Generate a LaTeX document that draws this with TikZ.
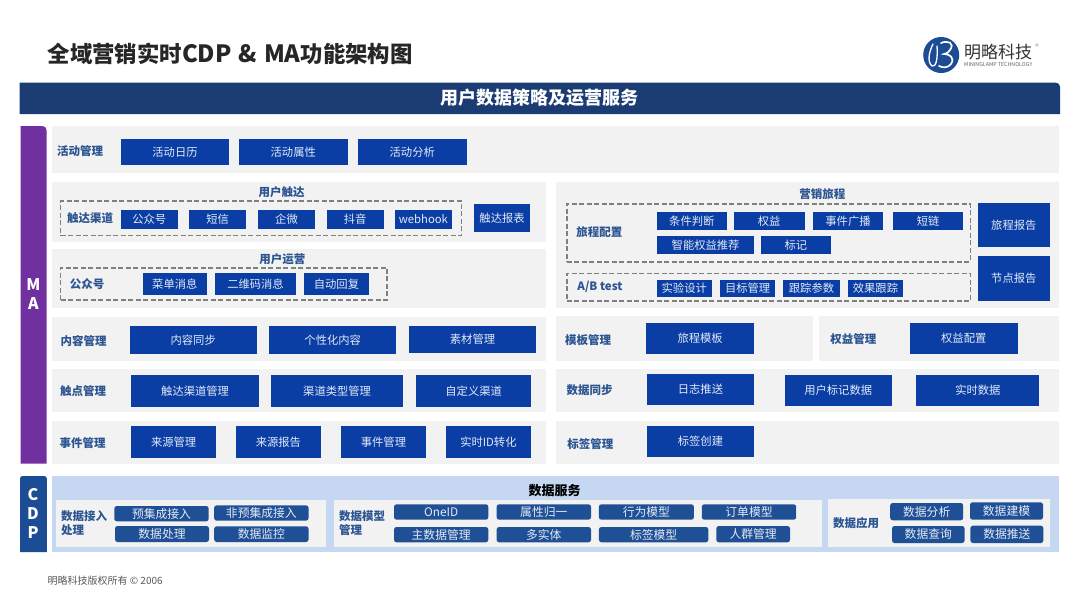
\documentclass[tikz,border=0pt]{standalone}
\usepackage{fontspec}
\setmainfont{Noto Sans CJK SC}
\definecolor{bannerblue}{HTML}{1A3C73}
\definecolor{mapurple}{HTML}{7030A0}
\definecolor{cdpblue}{HTML}{1B4C94}
\definecolor{cdpback}{HTML}{C6D8F1}
\definecolor{panelgrey}{HTML}{F2F2F2}
\definecolor{boxblue}{HTML}{0A3EA4}
\definecolor{pillblue}{HTML}{1F5096}
\definecolor{labelblue}{HTML}{2B5491}
\definecolor{boxtext}{HTML}{E3EAF7}
\tikzset{
  panel/.style={fill=panelgrey},
  cdppanel/.style={fill=cdpback},
  bluebox/.style={fill=boxblue, text=boxtext, font=\fontsize{11.3}{13}\selectfont},
  pillbox/.style={fill=pillblue, text=boxtext, rounded corners=2.5pt, font=\fontsize{11.8}{13}\selectfont},
  dashbox/.style={draw=black!50, line width=1.6pt, dash pattern=on 5pt off 2.5pt},
  rowlabel/.style={text=labelblue, font=\bfseries\fontsize{11.5}{14.4}\selectfont},
  sidelabel/.style={text=white, align=center, font=\bfseries\fontsize{16}{19}\selectfont},
}
% style, name, left, top, right, bottom, text
\newcommand{\block}[7]{\node[#1, inner sep=0pt, outer sep=0pt, minimum width={(#5-#3)*1pt}, minimum height={(#6-#4)*1pt}] (#2) at ({(#3+#5)/2},{(#4+#6)/2}) {#7};}
\newcommand{\latinbig}[1]{{\fontsize{23.8}{26}\selectfont #1}}
\begin{document}
\begin{tikzpicture}[x=1pt, y=-1pt]
  \useasboundingbox (0,0) rectangle (1080,608);
  \fill[white] (0,0) rectangle (1080,608);
  % header
  \node[anchor=west, inner sep=0pt, text=black!85, font=\bfseries\fontsize{22.4}{26}\selectfont] (title) at (47.5,53.5) {全域营销实时\latinbig{CDP\hspace{7pt}\&\hspace{7pt}MA}功能架构图};
  \fill[cdpblue] (941.2,55) circle (18);
  \draw[white, line width=1.3pt, line cap=round] (933,44) .. controls (929,52) and (927,62) .. (932,66) .. controls (936,68) and (938,58) .. (937,46);
  \draw[white, line width=1.7pt, line cap=round] (941,43) .. controls (948,40) and (955,43) .. (950,50) .. controls (948,53) and (945,54) .. (944,54) .. controls (950,54) and (955,58) .. (951,64) .. controls (948,68) and (943,68) .. (939,66);
  \node[anchor=west, inner sep=0pt, text=black!80, font=\fontsize{17}{20}\selectfont] (logotext) at (964,52.3) {明略科技};
  \node[anchor=west, inner sep=0pt, text=black!60, font=\fontsize{5.3}{7}\selectfont] (logosub) at (964,64.7) {MININGLAMP TECHNOLOGY};
  \node[inner sep=0pt, text=black!50, font=\fontsize{7}{8}\selectfont] (logomark) at (1037,47) {®};
  \fill[bannerblue] (19.5,114) -- (19.5,82.7) -- (1040,82.7) [rounded corners=4pt] -- (1060,82.7) -- (1060,100) [sharp corners] -- (1060,114) -- cycle;
  \node[text=white, inner sep=0pt, font=\bfseries\fontsize{18}{22}\selectfont] (banner) at (539.5,98) {用户数据策略及运营服务};
  % side bars
  \fill[mapurple] (20.7,463.7) -- (20.7,126) -- (35,126) [rounded corners=4pt] -- (46.5,126) -- (46.5,140) [sharp corners] -- (46.5,463.7) -- cycle;
  \node[sidelabel] (ma) at (33.5,294.5) {M\\A};
  \fill[cdpblue] (20,552) -- (20,490) [rounded corners=2.5pt] -- (20,476) -- (46.8,476) -- (46.8,490) [sharp corners] -- (46.8,552) -- cycle;
  \node[sidelabel] (cdp) at (33,513) {C\\D\\P};
  % grey panels
  \block{panel}{activity}{51.6}{126}{1059}{172.7}{}
  \block{panel}{reach}{51.6}{182}{546}{242}{}
  \block{panel}{operate}{51.6}{248.7}{546}{308.3}{}
  \block{panel}{journey}{555.5}{182}{1059}{307.7}{}
  \block{panel}{content}{51.6}{317.3}{546}{361}{}
  \block{panel}{touch}{51.6}{369.3}{546}{412.3}{}
  \block{panel}{event}{51.6}{421}{546}{463.7}{}
  \block{panel}{template}{555.5}{315.7}{813}{360.7}{}
  \block{panel}{rights}{819.3}{315.7}{1059}{360.7}{}
  \block{panel}{sync}{555.5}{369.3}{1059}{412}{}
  \block{panel}{tag}{555.5}{421}{1059}{464}{}
  \block{cdppanel}{cdpback}{51.6}{476}{1059}{552}{}
  \block{panel}{dataIn}{56}{500.3}{326}{547}{}
  \block{panel}{dataModel}{334}{500.3}{822}{547}{}
  \block{panel}{dataUse}{828}{499.3}{1050}{546.7}{}
  % activity row
  \node[rowlabel] (activityLabel) at (80,151) {活动管理};
  \block{bluebox}{activityA}{121}{139}{229}{165}{活动日历}
  \block{bluebox}{activityB}{239}{139}{347.5}{165}{活动属性}
  \block{bluebox}{activityC}{358}{139}{466.5}{165}{活动分析}
  % reach
  \node[rowlabel] (reachTitle) at (281.7,192) {用户触达};
  \block{dashbox}{reachDash}{60.6}{201}{461.4}{235.3}{}
  \node[rowlabel] (reachLabel) at (90,218.3) {触达渠道};
  \block{bluebox}{reachA}{120.5}{210}{178}{228.7}{公众号}
  \block{bluebox}{reachB}{189}{210}{246.2}{228.7}{短信}
  \block{bluebox}{reachC}{258}{210}{315}{228.7}{企微}
  \block{bluebox}{reachD}{326.8}{210}{383.6}{228.7}{抖音}
  \block{bluebox}{reachE}{395}{210}{451.8}{228.7}{webhook}
  \block{bluebox}{reachReport}{473.8}{204}{530.3}{232.3}{触达报表}
  % operate
  \node[rowlabel] (operateTitle) at (282.4,259.3) {用户运营};
  \block{dashbox}{operateDash}{60.6}{267.7}{387}{300}{}
  \node[rowlabel] (operateLabel) at (87,284) {公众号};
  \block{bluebox}{operateA}{142.6}{273.3}{207}{294.7}{菜单消息}
  \block{bluebox}{operateB}{215}{273.3}{296}{294.7}{二维码消息}
  \block{bluebox}{operateC}{304.4}{273.3}{368.5}{294.7}{自动回复}
  % journey
  \node[rowlabel] (journeyTitle) at (822.4,193.7) {营销旅程};
  \block{dashbox}{journeyDash}{566.9}{203.7}{970.4}{261.7}{}
  \node[rowlabel] (journeyLabel) at (599.4,232.3) {旅程配置};
  \block{bluebox}{journeyA}{657}{212}{726.6}{230}{条件判断}
  \block{bluebox}{journeyB}{733.9}{212}{804.5}{230}{权益}
  \block{bluebox}{journeyC}{813}{212}{883}{230}{事件广播}
  \block{bluebox}{journeyD}{893}{212}{963.2}{230}{短链}
  \block{bluebox}{journeyE}{657}{236}{754.2}{254}{智能权益推荐}
  \block{bluebox}{journeyF}{760.7}{236}{831}{254}{标记}
  \block{dashbox}{abDash}{566.9}{273.3}{970.4}{301}{}
  \node[rowlabel] (abLabel) at (600,287) {A/B test};
  \block{bluebox}{abA}{657}{280}{711.5}{296.7}{实验设计}
  \block{bluebox}{abB}{720.4}{280}{774.9}{296.7}{目标管理}
  \block{bluebox}{abC}{783}{280}{840}{296.7}{跟踪参数}
  \block{bluebox}{abD}{847.9}{280}{903}{296.7}{效果跟踪}
  \block{bluebox}{journeyReport}{978}{202.7}{1049.6}{247.3}{旅程报告}
  \block{bluebox}{nodeReport}{978}{255.7}{1049.6}{300.7}{节点报告}
  % content
  \node[rowlabel] (contentLabel) at (83.6,341.3) {内容管理};
  \block{bluebox}{contentA}{129.5}{326}{256.9}{354}{内容同步}
  \block{bluebox}{contentB}{269}{326}{396.4}{354}{个性化内容}
  \block{bluebox}{contentC}{409}{326}{536}{353.3}{素材管理}
  % touch points
  \node[rowlabel] (touchLabel) at (83.2,390.7) {触点管理};
  \block{bluebox}{touchA}{130.9}{375.3}{259.3}{406.7}{触达渠道管理}
  \block{bluebox}{touchB}{271.3}{375.3}{402.9}{406.7}{渠道类型管理}
  \block{bluebox}{touchC}{416.3}{375.3}{531}{406.7}{自定义渠道}
  % events
  \node[rowlabel] (eventLabel) at (82.7,442.7) {事件管理};
  \block{bluebox}{eventA}{130.9}{426.3}{216.3}{457.7}{来源管理}
  \block{bluebox}{eventB}{235.9}{426.3}{320.9}{457.7}{来源报告}
  \block{bluebox}{eventC}{340.9}{426.3}{426}{457.7}{事件管理}
  \block{bluebox}{eventD}{445.9}{426.3}{531}{457.7}{实时ID转化}
  % right rows
  \node[rowlabel] (templateLabel) at (588,340.3) {模板管理};
  \block{bluebox}{templateA}{646}{322.7}{754.2}{353.7}{旅程模板}
  \node[rowlabel] (rightsLabel) at (853.4,339) {权益管理};
  \block{bluebox}{rightsA}{909.5}{323.3}{1018}{354}{权益配置}
  \node[rowlabel] (syncLabel) at (589.6,390.3) {数据同步};
  \block{bluebox}{syncA}{646.7}{373.7}{754.2}{405}{日志推送}
  \block{bluebox}{syncB}{784.8}{374.7}{891.6}{405.7}{用户标记数据}
  \block{bluebox}{syncC}{916.4}{374.7}{1039.3}{405.7}{实时数据}
  \node[rowlabel] (tagLabel) at (590.4,444.3) {标签管理};
  \block{bluebox}{tagA}{646.7}{426}{754.2}{457}{标签创建}
  % data services
  \node[inner sep=0pt, text=black, font=\bfseries\fontsize{13}{15}\selectfont] (dataTitle) at (554.6,491) {数据服务};
  \node[rowlabel, anchor=west, align=left, inner sep=0pt] (dataInLabel) at (61,523) {数据接入\\处理};
  \block{pillbox}{dataInA}{114.3}{506}{208.7}{521.3}{预集成接入}
  \block{pillbox}{dataInB}{214.2}{505.3}{308.5}{520.7}{非预集成接入}
  \block{pillbox}{dataInC}{115}{526}{209}{542}{数据处理}
  \block{pillbox}{dataInD}{214.2}{526.3}{308.5}{542}{数据监控}
  \node[rowlabel, anchor=west, align=left, inner sep=0pt] (dataModelLabel) at (338.8,523) {数据模型\\管理};
  \block{pillbox}{modelA}{394}{504.3}{488.3}{519.7}{OneID}
  \block{pillbox}{modelB}{496.6}{504.3}{591}{519.7}{属性归一}
  \block{pillbox}{modelC}{598.9}{504.3}{693.9}{519.7}{行为模型}
  \block{pillbox}{modelD}{701.8}{504.3}{796.2}{519.7}{订单模型}
  \block{pillbox}{modelE}{394}{527}{488.3}{542.3}{主数据管理}
  \block{pillbox}{modelF}{496.6}{527}{591}{542.3}{多实体}
  \block{pillbox}{modelG}{598.9}{527}{708.4}{542.3}{标签模型}
  \block{pillbox}{modelH}{716.3}{526}{790}{542.3}{人群管理}
  \node[rowlabel] (dataUseLabel) at (856,522.7) {数据应用};
  \block{pillbox}{useA}{890.2}{503}{963.2}{520.3}{数据分析}
  \block{pillbox}{useB}{970}{502.3}{1043}{519.7}{数据建模}
  \block{pillbox}{useC}{892}{526}{964.6}{543}{数据查询}
  \block{pillbox}{useD}{970.4}{525.7}{1043.4}{543}{数据推送}
  % footer
  \node[anchor=west, inner sep=0pt, text=black!65, font=\fontsize{10}{12}\selectfont] (footer) at (47.5,580.3) {明略科技版权所有 © 2006};
\end{tikzpicture}
\end{document}
